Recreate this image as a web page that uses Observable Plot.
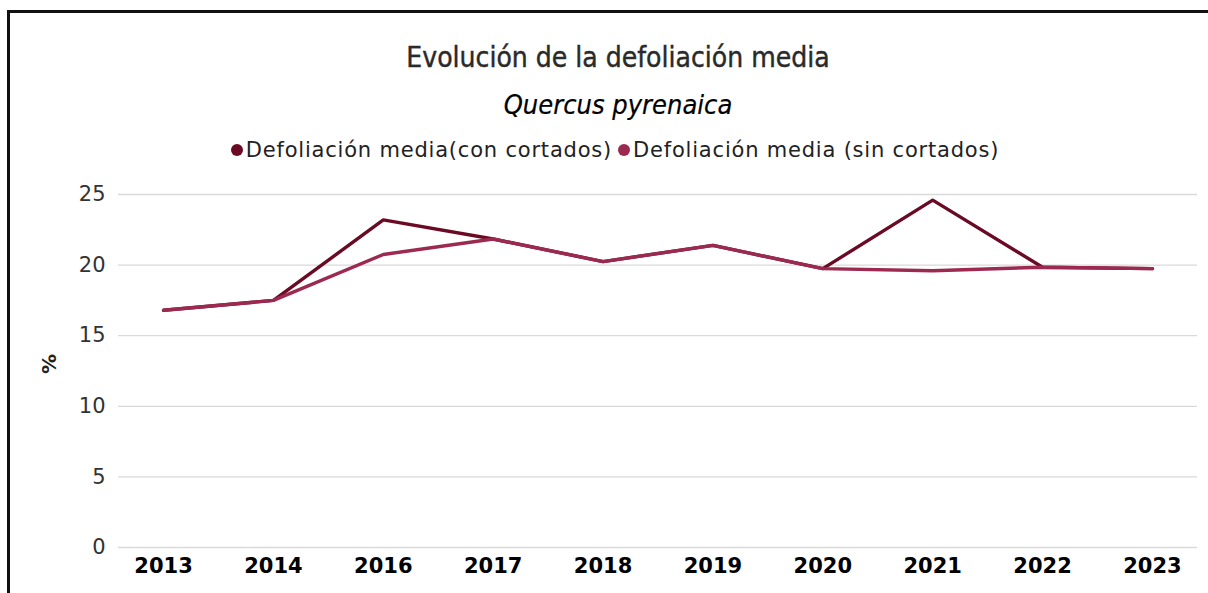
<!DOCTYPE html>
<html>
<head>
<meta charset="utf-8">
<script src="https://cdn.jsdelivr.net/npm/d3@7"></script>
<script src="https://cdn.jsdelivr.net/npm/@observablehq/plot@0.6"></script>
<style>
  html, body { margin: 0; padding: 0; background: #fff; overflow: hidden; }
  body { width: 1208px; height: 593px; position: relative; font-family: "DejaVu Sans", sans-serif; }
  #frame { position: absolute; left: 7px; top: 10px; width: 1300px; height: 700px; border: 3px solid #111; box-sizing: border-box; }
  .centered { position: absolute; left: 0; width: 1236px; text-align: center; white-space: nowrap; }
  #title { top: 41px; font-family: "DejaVu Sans Condensed", "DejaVu Sans", sans-serif; font-size: 28px; color: #2a2a2a; -webkit-text-stroke: 0.4px #2a2a2a; }
  #subtitle { top: 89px; font-family: "DejaVu Sans Condensed", "DejaVu Sans", sans-serif; font-style: italic; font-size: 27px; color: #000; -webkit-text-stroke: 0.2px #000; }
  #legend { top: 137px; width: 1230px; font-size: 21px; letter-spacing: 0.8px; color: #222; }
  .item { display: inline-flex; align-items: center; }
  .dot { display: inline-block; width: 12px; height: 12px; border-radius: 50%; margin-right: 3px; }
  #chart { position: absolute; left: 0; top: 180px; }
</style>
</head>
<body>
<div id="frame"></div>
<div id="title" class="centered">Evolución de la defoliación media</div>
<div id="subtitle" class="centered">Quercus pyrenaica</div>
<div id="legend" class="centered"></div>
<div id="chart"></div>
<script>
const years = ["2013", "2014", "2016", "2017", "2018", "2019", "2020", "2021", "2022", "2023"];
const conCortados = [16.8, 17.5, 23.2, 21.85, 20.25, 21.4, 19.75, 24.6, 19.85, 19.75];
const sinCortados = [16.8, 17.5, 20.75, 21.85, 20.25, 21.4, 19.75, 19.6, 19.85, 19.75];
const seriesNames = ["Defoliación media(con cortados)", "Defoliación media (sin cortados)"];
const seriesColors = ["#6b0a24", "#9c2a50"];
const yTicks = [0, 5, 10, 15, 20, 25];

const rows = [];
years.forEach((y, i) => rows.push({year: y, value: conCortados[i], series: seriesNames[0]}));
years.forEach((y, i) => rows.push({year: y, value: sinCortados[i], series: seriesNames[1]}));

// legend
const legend = document.getElementById("legend");
seriesNames.forEach((name, i) => {
  const item = document.createElement("span");
  item.className = "item";
  item.style.marginRight = i === 0 ? "6px" : "0";
  const dot = document.createElement("span");
  dot.className = "dot";
  dot.style.background = seriesColors[i];
  item.appendChild(dot);
  item.appendChild(document.createTextNode(name));
  legend.appendChild(item);
});

const chart = Plot.plot({
  width: 1208,
  height: 413,
  marginLeft: 118,
  marginRight: 11,
  marginTop: 14,
  marginBottom: 46,
  style: { fontFamily: "DejaVu Sans, sans-serif", background: "transparent" },
  x: { type: "point", domain: years, padding: 0.41, round: false, label: null },
  y: { domain: [0, 25], label: null },
  color: { domain: seriesNames, range: seriesColors },
  marks: [
    Plot.gridY(yTicks, { stroke: "#d9d9d9", strokeOpacity: 1, strokeWidth: 1.3 }),
    Plot.axisY(yTicks, { tickSize: 0, tickPadding: 13, fontSize: 21, fill: "#333", label: null }),
    Plot.axisX(years, { tickSize: 0, tickPadding: 11, fontSize: 21, fontWeight: "bold", fill: "#000", label: null }),
    Plot.text(["%"], { text: d => d, frameAnchor: "left", rotate: -90, dx: -69, dy: 3, fontSize: 20, fontWeight: "bold", fill: "#222" }),
    Plot.line(rows, { x: "year", y: "value", z: "series", stroke: "series", strokeWidth: 3.4, curve: "linear" })
  ]
});
document.getElementById("chart").appendChild(chart);
</script>
</body>
</html>
